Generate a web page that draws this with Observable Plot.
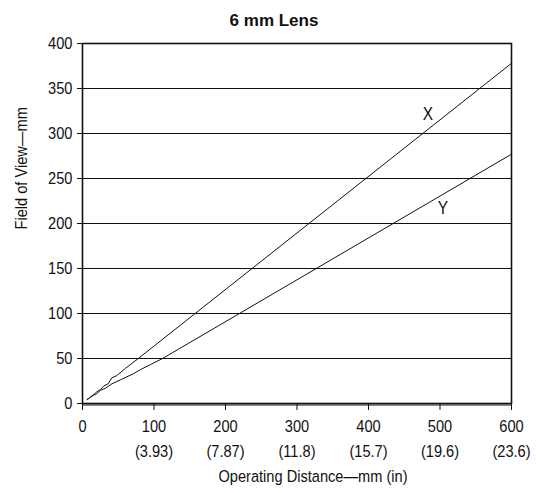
<!DOCTYPE html>
<html>
<head>
<meta charset="utf-8">
<script src="https://cdn.jsdelivr.net/npm/d3@7"></script>
<script src="https://cdn.jsdelivr.net/npm/@observablehq/plot@0.6"></script>
<style>
  html, body { margin: 0; padding: 0; background: #fff; }
</style>
</head>
<body>
<div id="chart"></div>
<script>
const title = "6 mm Lens";
const xAxisLabel = "Operating Distance\u2014mm (in)";
const yAxisLabel = "Field of View\u2014mm";

// X series (mm distance, mm field of view)
const xSeriesDistance = [6.5, 9, 12, 16, 20, 25, 30, 36, 41, 48, 60, 78, 600];
const xSeriesValue    = [4.4, 5.5, 8, 10, 13, 15.5, 19.5, 22, 28.5, 31, 39, 50, 378];
// Y series
const ySeriesDistance = [6.5, 10, 15, 20, 25, 32, 41, 55, 71, 80.5, 95, 112, 600];
const ySeriesValue    = [4.4, 6.5, 9, 11, 14.5, 17, 21.8, 27, 33, 37.4, 43.2, 50, 277];

const xTicks = [0, 100, 200, 300, 400, 500, 600];
const xTickInches = ["", "(3.93)", "(7.87)", "(11.8)", "(15.7)", "(19.6)", "(23.6)"];
const yTicks = [0, 50, 100, 150, 200, 250, 300, 350, 400];

const seriesLabels = ["X", "Y"];
const labelDistance = [483, 504];
const labelValue = [321, 217];

const xData = xSeriesDistance.map((d, i) => ({d, v: xSeriesValue[i]}));
const yData = ySeriesDistance.map((d, i) => ({d, v: ySeriesValue[i]}));
const labels = seriesLabels.map((s, i) => ({s, d: labelDistance[i], v: labelValue[i]}));

const font = "'Liberation Sans', Arial, Helvetica, sans-serif";

const chart = Plot.plot({
  width: 536,
  height: 493,
  marginTop: 43,
  marginLeft: 82,
  marginRight: 25,
  marginBottom: 90,
  style: {fontFamily: font, fontSize: "17px", color: "#111", background: "#fff"},
  x: {domain: [0, 600]},
  y: {domain: [0, 400]},
  marks: [
    Plot.ruleY(yTicks, {stroke: "#111", strokeWidth: 1}),
    Plot.ruleY([0], {stroke: "#111", strokeWidth: 1, dy: 1.5}),
    Plot.frame({stroke: "#111", strokeWidth: 1.6}),
    Plot.axisY({
      ticks: yTicks, tickSize: 5, tickPadding: 5, label: null,
      fontSize: 17, stroke: "#111"
    }),
    Plot.axisX({
      ticks: xTicks, tickSize: 7, tickPadding: 4, label: null,
      fontSize: 17, lineHeight: 1.47, stroke: "#111",
      tickFormat: (t) => {
        const i = xTicks.indexOf(t);
        return xTickInches[i] ? `${t}\n${xTickInches[i]}` : `${t}`;
      }
    }),
    Plot.line(xData, {x: "d", y: "v", stroke: "#111", strokeWidth: 1}),
    Plot.line(yData, {x: "d", y: "v", stroke: "#111", strokeWidth: 1}),
    Plot.text(labels, {x: "d", y: "v", text: "s", fontSize: 18, fill: "#111"}),
    Plot.text([title], {frameAnchor: "top", dx: -23, dy: -30, fontSize: 17, fontWeight: "bold", fill: "#111"}),
    Plot.text([xAxisLabel], {frameAnchor: "bottom", dx: 16, dy: 78, fontSize: 17, fill: "#111"}),
    Plot.text([yAxisLabel], {frameAnchor: "left", dx: -61, dy: 6, rotate: -90, fontSize: 17, fill: "#111"})
  ]
});

// condense the (narrow, Helvetica-Condensed-like) text horizontally, except the title
chart.querySelectorAll("text").forEach((t) => {
  if (t.textContent === title) return;
  const tr = t.getAttribute("transform");
  if (tr) t.setAttribute("transform", tr + " scale(0.86,1)");
  else {
    const x = parseFloat(t.getAttribute("x")) || 0;
    t.setAttribute("transform", `translate(${x},0) scale(0.86,1) translate(${-x},0)`);
  }
});

document.getElementById("chart").appendChild(chart);
</script>
</body>
</html>
